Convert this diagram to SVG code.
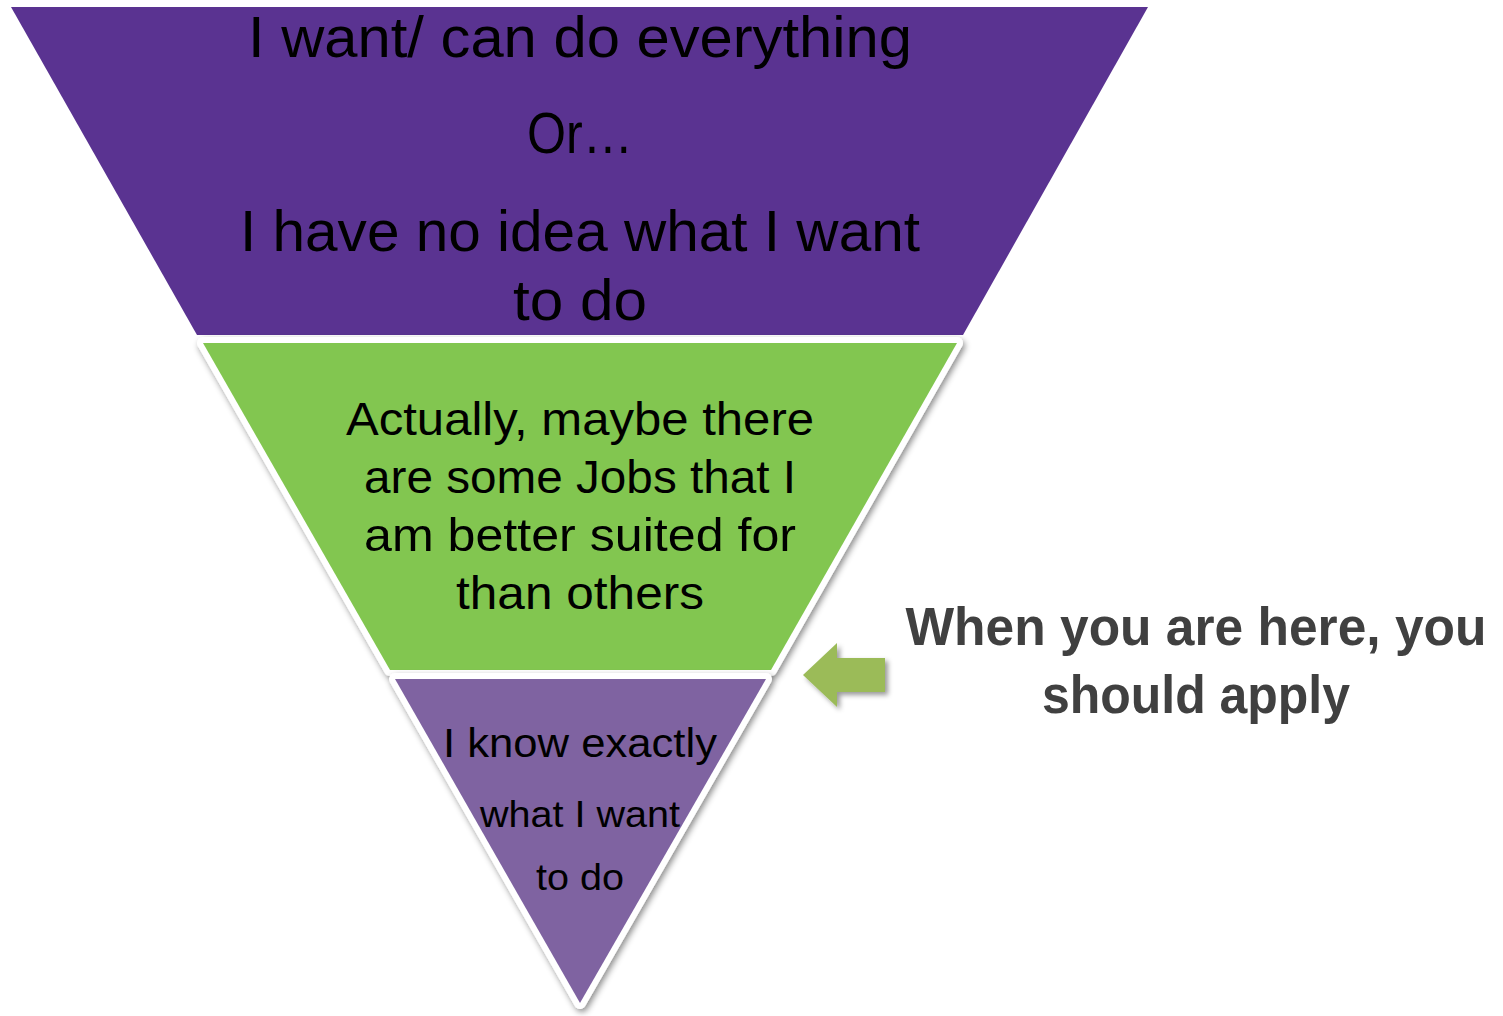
<svg xmlns="http://www.w3.org/2000/svg" width="1503" height="1016" viewBox="0 0 1503 1016">
<defs>
<filter id="sh" x="-10%" y="-10%" width="120%" height="120%">
<feDropShadow dx="2" dy="3" stdDeviation="3" flood-color="#000" flood-opacity="0.45"/>
</filter>
<filter id="ash" x="-20%" y="-20%" width="140%" height="140%">
<feDropShadow dx="3" dy="3" stdDeviation="2.5" flood-color="#000" flood-opacity="0.4"/>
</filter>
</defs>
<style>
.t{font-family:"Liberation Sans",Arial,sans-serif;fill:#000;text-anchor:middle}
.c{font-family:"Liberation Sans",Arial,sans-serif;fill:#404040;font-weight:bold;text-anchor:middle}
.out{fill:#fff;stroke:#fff;stroke-width:12;stroke-linejoin:round}
</style>
<g id="top">
<polygon points="11,7 1148,7 963,335 197,335" fill="#5A3391"/>
<text class="t" x="580" y="57" font-size="57" textLength="664" lengthAdjust="spacingAndGlyphs">I want/ can do everything</text>
<text class="t" x="580" y="153" font-size="57" textLength="106" lengthAdjust="spacingAndGlyphs">Or…</text>
<text class="t" x="580" y="251" font-size="57" textLength="680" lengthAdjust="spacingAndGlyphs">I have no idea what I want</text>
<text class="t" x="580" y="320" font-size="57" textLength="134" lengthAdjust="spacingAndGlyphs">to do</text>
</g>
<g id="middle">
<polygon class="out" points="203,343 957,343 771,670 390,670" filter="url(#sh)"/>
<polygon points="203,343 957,343 771,670 390,670" fill="#82C650"/>
<text class="t" x="580" y="435" font-size="46" textLength="468" lengthAdjust="spacingAndGlyphs">Actually, maybe there</text>
<text class="t" x="580" y="493" font-size="46" textLength="432" lengthAdjust="spacingAndGlyphs">are some Jobs that I</text>
<text class="t" x="580" y="551" font-size="46" textLength="432" lengthAdjust="spacingAndGlyphs">am better suited for</text>
<text class="t" x="580" y="609" font-size="46" textLength="248" lengthAdjust="spacingAndGlyphs">than others</text>
</g>
<g id="bottom">
<polygon class="out" points="395,679 766,679 580,1003" filter="url(#sh)"/>
<polygon points="395,679 766,679 580,1003" fill="#7F63A1"/>
<text class="t" x="580" y="757" font-size="40" textLength="274" lengthAdjust="spacingAndGlyphs">I know exactly</text>
<text class="t" x="580" y="827" font-size="36" textLength="200" lengthAdjust="spacingAndGlyphs">what I want</text>
<text class="t" x="580" y="890" font-size="36" textLength="88" lengthAdjust="spacingAndGlyphs">to do</text>
</g>
<g id="arrow">
<polygon points="803,675 837,643 837,658 885,658 885,692 837,692 837,707" fill="#9BBB59" filter="url(#ash)"/>
</g>
<g id="callout">
<text class="c" x="1196" y="645" font-size="53" textLength="581" lengthAdjust="spacingAndGlyphs">When you are here, you</text>
<text class="c" x="1196" y="713" font-size="53" textLength="308" lengthAdjust="spacingAndGlyphs">should apply</text>
</g>
<g id="connectors"/>
</svg>
